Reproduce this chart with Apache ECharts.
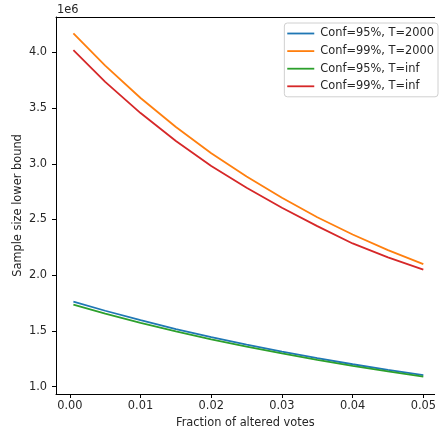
<!DOCTYPE html>
<html>
<head>
<meta charset="utf-8">
<script src="https://cdn.jsdelivr.net/npm/echarts@6/dist/echarts.min.js"></script>
<style>html,body{margin:0;padding:0;background:#fff;}#c{width:439px;height:434px;}</style>
</head>
<body>
<div id="c"></div>
<script>
// Fraction of altered votes
const fractions = [0.0005, 0.005, 0.01, 0.015, 0.02, 0.025, 0.03, 0.035, 0.04, 0.045, 0.05];
// Sample size lower bound (x 1e6)
const conf95T2000 = [1.763, 1.681, 1.596, 1.517, 1.444, 1.377, 1.314, 1.256, 1.201, 1.151, 1.104];
const conf99T2000 = [4.17, 3.88, 3.59, 3.33, 3.095, 2.885, 2.695, 2.52, 2.365, 2.225, 2.10];
const conf95Tinf  = [1.736, 1.656, 1.573, 1.496, 1.425, 1.360, 1.298, 1.241, 1.187, 1.137, 1.090];
const conf99Tinf  = [4.02, 3.735, 3.455, 3.205, 2.98, 2.785, 2.605, 2.44, 2.285, 2.16, 2.05];
const seriesNames = ['Conf=95%, T=2000', 'Conf=99%, T=2000', 'Conf=95%, T=inf', 'Conf=99%, T=inf'];
const xTicks = [0.00, 0.01, 0.02, 0.03, 0.04, 0.05];
const yTicks = [1.0, 1.5, 2.0, 2.5, 3.0, 3.5, 4.0];
const colors = ['#1f77b4', '#ff7f0e', '#2ca02c', '#d62728'];

const FONT = 'DejaVu Sans';
const FS = 11.4;
const TXT = '#262626';

function pairs(ys) { return ys.map((y, i) => [fractions[i], y]); }
const allData = [conf95T2000, conf99T2000, conf95Tinf, conf99Tinf];

const chart = echarts.init(document.getElementById('c'), null, {renderer: 'canvas'});
chart.setOption({
  animation: false,
  backgroundColor: '#fff',
  textStyle: {fontFamily: FONT},
  grid: {left: 56, right: 0, top: 17, bottom: 40, containLabel: false},
  xAxis: [{
    type: 'value', min: -0.00196, max: 0.0516,
    name: 'Fraction of altered votes', nameLocation: 'middle', nameGap: 24,
    nameMoveOverlap: false,
    nameTextStyle: {fontFamily: FONT, fontSize: FS, color: TXT},
    axisLine: {show: true, onZero: false, lineStyle: {color: '#000', width: 1}},
    axisTick: {show: true, inside: false, length: 4, lineStyle: {color: '#000'}, customValues: xTicks},
    axisLabel: {show: true, margin: 7, fontFamily: FONT, fontSize: FS, color: TXT,
      customValues: xTicks, formatter: v => v.toFixed(2)},
    splitLine: {show: false}
  }, {
    type: 'value', position: 'top', min: -0.00196, max: 0.0516,
    axisLine: {show: true, onZero: false, lineStyle: {color: '#000', width: 1}},
    axisTick: {show: false}, axisLabel: {show: false}, splitLine: {show: false}
  }],
  yAxis: {
    type: 'value', min: 0.934, max: 4.317,
    name: 'Sample size lower bound', nameLocation: 'middle', nameGap: 32,
    nameMoveOverlap: false,
    nameTextStyle: {fontFamily: FONT, fontSize: FS, color: TXT},
    axisLine: {show: true, onZero: false, lineStyle: {color: '#000', width: 1}},
    axisTick: {show: true, inside: false, length: 4, lineStyle: {color: '#000'}, customValues: yTicks},
    axisLabel: {show: true, margin: 9, fontFamily: FONT, fontSize: FS, color: TXT,
      customValues: yTicks, formatter: v => v.toFixed(1)},
    splitLine: {show: false}
  },
  legend: {
    orient: 'vertical', right: 1, top: 23,
    data: seriesNames,
    itemWidth: 27, itemHeight: 12, itemGap: 6.6,
    padding: [5, 4, 5, 2],
    itemStyle: {opacity: 0},
    lineStyle: {width: 1.8},
    backgroundColor: '#fff', borderColor: '#d0d0d0', borderWidth: 1, borderRadius: 3,
    textStyle: {fontFamily: FONT, fontSize: FS, color: TXT, padding: [0, 0, 0, 1]}
  },
  graphic: [{
    type: 'text', left: 57, top: 4.5,
    style: {text: '1e6', font: FS + 'px "' + FONT + '"', fill: TXT}
  }],
  series: seriesNames.map((n, i) => ({
    name: n, type: 'line', xAxisIndex: 0,
    data: pairs(allData[i]),
    showSymbol: false, symbol: 'none',
    smooth: false,
    lineStyle: {color: colors[i], width: 1.8},
    itemStyle: {color: colors[i]}
  }))
});
</script>
</body>
</html>
